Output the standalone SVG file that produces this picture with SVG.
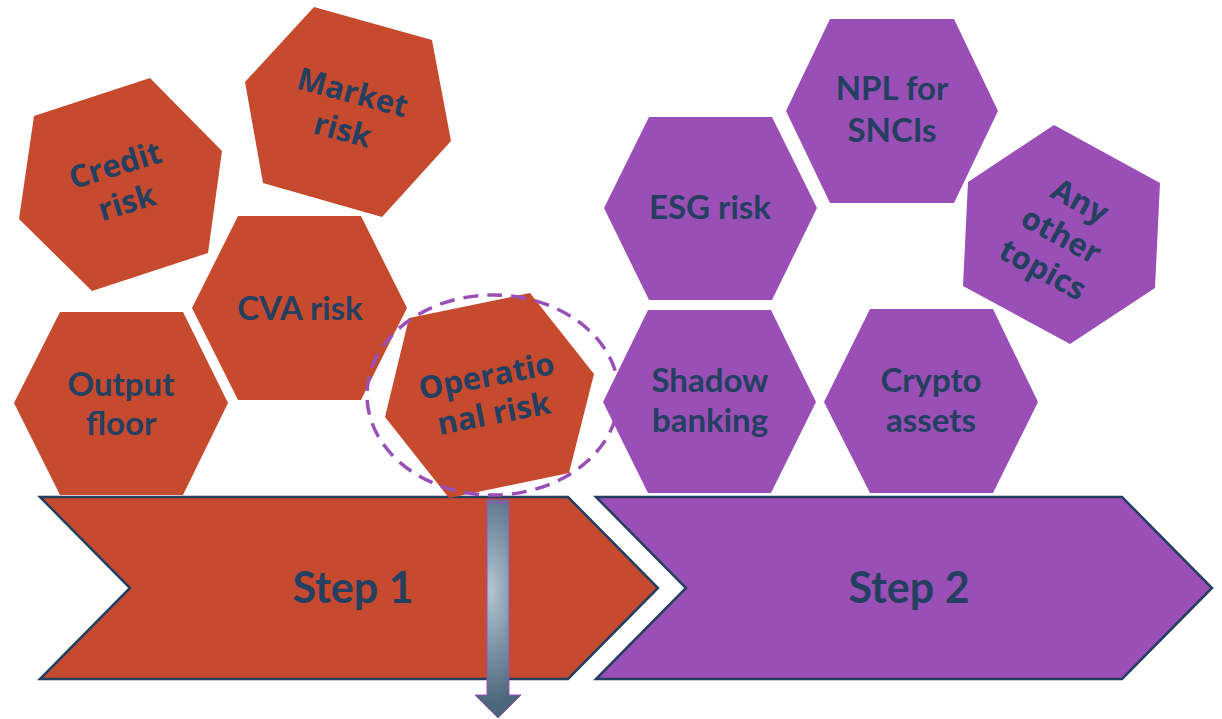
<svg xmlns="http://www.w3.org/2000/svg" width="1222" height="719" viewBox="0 0 1222 719">
<style>
.o{fill:#C64A2E}
.p{fill:#9A4FB7}
.lbl{font-family:Lato,"Open Sans",sans-serif;font-weight:bold;font-size:33px;fill:#243F60;text-anchor:middle}
.rl{font-family:"Open Sans",Lato,sans-serif;font-weight:bold;font-size:31px;fill:#243F60;text-anchor:middle}
.step{font-family:Lato,"Open Sans",sans-serif;font-weight:bold;font-size:43px;fill:#243F60;text-anchor:middle}
.chev{stroke:#243F60;stroke-width:2.5}
</style>
<defs>
<radialGradient id="ag" gradientUnits="userSpaceOnUse" cx="491" cy="590" r="115" fx="491" fy="590" gradientTransform="translate(491 590) scale(0.4 1) translate(-491 -590)">
<stop offset="0" stop-color="#B2C5D3"/>
<stop offset="1" stop-color="#4C667B"/>
</radialGradient>
</defs>
<rect width="1222" height="719" fill="#fff"/>

<g id="step1"><polygon class="o chev" points="40,497 568,497 658,588 568,679 40,679 130,588"/><text class="step" x="353" y="603">Step 1</text></g>
<g id="step2"><polygon class="p chev" points="596,497 1122,497 1212,588 1122,679 596,679 686,588"/><text class="step" x="909" y="603">Step 2</text></g>

<g id="credit-risk"><polygon class="o" points="150,78 222,151 208,253 92,291 19,219 34,116"/>
<g transform="translate(121 184) rotate(-17)"><text class="rl" x="0" y="-9">Credit</text><text class="rl" x="0" y="30">risk</text></g></g>

<g id="market-risk"><polygon class="o" points="314,7 432,40 451,141 382,217 263,183 245,82"/>
<g transform="translate(347.5 111.5) rotate(15)"><text class="rl" x="0" y="-9">Market</text><text class="rl" x="0" y="30">risk</text></g></g>

<g id="cva-risk"><polygon class="o" points="238,216 361,216 407,308 361,400 238,400 192,308"/><text class="lbl" x="300" y="320">CVA risk</text></g>

<g id="output-floor"><polygon class="o" points="60,312 183,312 228,403 183,495 60,495 14,403"/><text class="lbl" x="121" y="396">Output</text><text class="lbl" x="121" y="435">floor</text></g>

<g id="operational-risk"><polygon class="o" points="530,293 594,374 569,473 449,498 385,417 409,318"/>
<g transform="translate(490 394.5) rotate(-11)"><text class="rl" x="0" y="-8">Operatio</text><text class="rl" x="0" y="30">nal risk</text></g></g>

<g id="npl-sncis"><polygon class="p" points="830,19 954,19 998,111 954,203 830,203 786,111"/><text class="lbl" x="892" y="100">NPL for</text><text class="lbl" x="892" y="142">SNCIs</text></g>

<g id="esg-risk"><polygon class="p" points="649,117 772,117 817,208 772,300 649,300 604,208"/><text class="lbl" x="710" y="219">ESG risk</text></g>

<g id="shadow-banking"><polygon class="p" points="648,310 771,310 816,402 771,493 648,493 603,402"/><text class="lbl" x="710" y="392">Shadow</text><text class="lbl" x="710" y="432">banking</text></g>

<g id="crypto-assets"><polygon class="p" points="870,309 993,309 1038,402 993,493 870,493 824,402"/><text class="lbl" x="931" y="392">Crypto</text><text class="lbl" x="931" y="432">assets</text></g>

<g id="any-other-topics"><polygon class="p" points="1054,125 1160,183 1155,288 1070,344 963,286 968,182"/>
<g transform="translate(1061 236) rotate(28.5)"><text class="rl" x="0" y="-29">Any</text><text class="rl" x="0" y="10">other</text><text class="rl" x="0" y="49">topics</text></g></g>

<g id="highlight"><ellipse cx="493" cy="395" rx="126" ry="100" fill="none" stroke="#9A4FB7" stroke-width="3.5" stroke-dasharray="15 9"/></g>

<g id="connectors">
<path d="M487,500 L509,500 L509,695 L521,695 L498,718 L475,695 L487,695 Z" fill="url(#ag)" stroke="#9A4FB7" stroke-width="1"/>
<line x1="487" y1="503" x2="509" y2="503" stroke="#9A4FB7" stroke-width="1"/>
</g>
</svg>
